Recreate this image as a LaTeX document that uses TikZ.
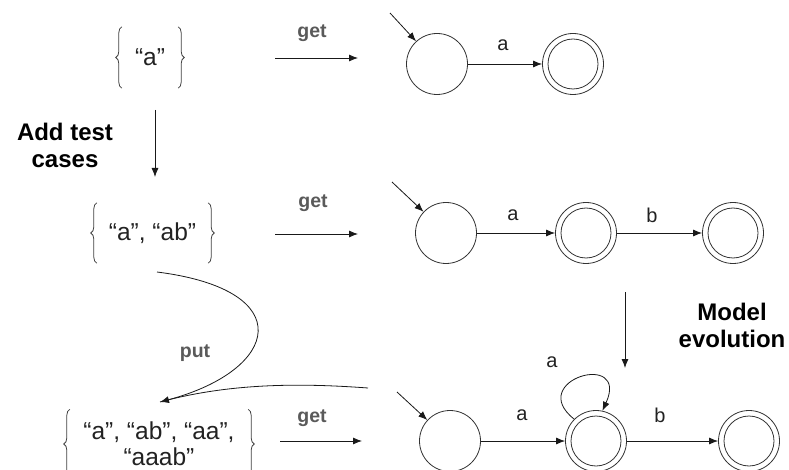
\documentclass[tikz,border=0pt]{standalone}
\usepackage{fontspec}
\setmainfont{Liberation Sans}
\usetikzlibrary{arrows.meta,decorations.pathreplacing}
\definecolor{lbl}{HTML}{5A5A5A}
\definecolor{ink}{HTML}{222222}
\begin{document}
\begin{tikzpicture}[x=1pt,y=-1pt,
  st/.style={circle,draw=black!80,line width=0.8pt,minimum size=61pt,inner sep=0pt},
  acc/.style={st,label={[st,minimum size=50pt]center:}},
  arr/.style={draw=black!90,line width=0.8pt,-{Latex[length=9pt,width=7pt]}},
  setnode/.style={inner sep=0pt,text=ink,font=\fontsize{24.5}{26}\selectfont,align=center},
  brace/.style={draw=black!75,line width=0.8pt,decorate,decoration={brace,amplitude=6pt}},
  getlbl/.style={text=lbl,font=\bfseries\fontsize{19.5}{22}\selectfont},
  elbl/.style={text=ink,font=\fontsize{20}{22}\selectfont},
  side/.style={text=black,font=\bfseries\fontsize{24}{27}\selectfont,align=center}]
\useasboundingbox (0,0) rectangle (789,470);
\clip (0,0) rectangle (789,470);

% sets of test cases
\node[setnode,minimum width=56pt,minimum height=61pt] (s1) at (150,57.5) {“a”};
\node[setnode,minimum width=111pt,minimum height=60pt] (s2) at (152.5,233) {“a”, “ab”};
\node[setnode,minimum width=178pt,minimum height=69pt] (s3) at (159,444) {“a”, “ab”, “aa”,\\“aaab”};
\foreach \s in {s1,s2,s3}{
  \draw[brace] (\s.south west) -- (\s.north west);
  \draw[brace] (\s.north east) -- (\s.south east);
}

% automata
\node[st] (a0) at (437,64) {};
\node[acc] (a1) at (573,64) {};
\node[st] (b0) at (446,233) {};
\node[acc] (b1) at (586,233) {};
\node[acc] (b2) at (733,233) {};
\node[st] (c0) at (450,441) {};
\node[acc] (c1) at (596,441) {};
\node[acc] (c2) at (749,441) {};

\coordinate (ia) at (390,13);
\coordinate (ib) at (392,182);
\coordinate (ic) at (397,392);
\draw[arr] (ia) -- (a0);
\draw[arr] (ib) -- (b0);
\draw[arr] (ic) -- (c0);

\draw[arr] (a0) -- (a1);
\draw[arr] (b0) -- (b1);
\draw[arr] (b1) -- (b2);
\draw[arr] (c0) -- (c1);
\draw[arr] (c1) -- (c2);
\draw[arr] (c1.135) .. controls (525,380) and (630,350) .. (c1.78);

\node[elbl] (la1) at (503,45) {a};
\node[elbl] (lb1) at (513,215) {a};
\node[elbl] (lb2) at (652,215) {b};
\node[elbl] (lc1) at (522,415) {a};
\node[elbl] (lc2) at (660,415) {b};
\node[elbl] (lc3) at (552,362) {a};

% get arrows
\coordinate (g1a) at (275,58);  \coordinate (g1b) at (358,58);
\coordinate (g2a) at (275,234); \coordinate (g2b) at (358,234);
\coordinate (g3a) at (280,441); \coordinate (g3b) at (362,441);
\draw[arr] (g1a) -- (g1b);
\draw[arr] (g2a) -- (g2b);
\draw[arr] (g3a) -- (g3b);
\node[getlbl] (get1) at (312,33) {get};
\node[getlbl] (get2) at (313,203) {get};
\node[getlbl] (get3) at (312,418) {get};

% add test cases
\coordinate (ta) at (155,110); \coordinate (tb) at (155,177);
\draw[arr] (ta) -- (tb);
\node[side] (addtc) at (65,145) {Add test\\cases};

% model evolution
\coordinate (ma) at (625,292); \coordinate (mb) at (625,368);
\draw[arr] (ma) -- (mb);
\node[side] (modev) at (732,325) {Model\\evolution};

% put
\coordinate (putA) at (157,272);
\coordinate (putB) at (368,388);
\coordinate (putTip) at (160,402);
\draw[arr] (putA) .. controls (300,290) and (280,370) .. (putTip);
\draw[draw=black!90,line width=0.8pt] (putB) .. controls (300,383) and (230,383) .. (putTip);
\node[getlbl] (putl) at (195,353) {put};
\end{tikzpicture}
\end{document}
